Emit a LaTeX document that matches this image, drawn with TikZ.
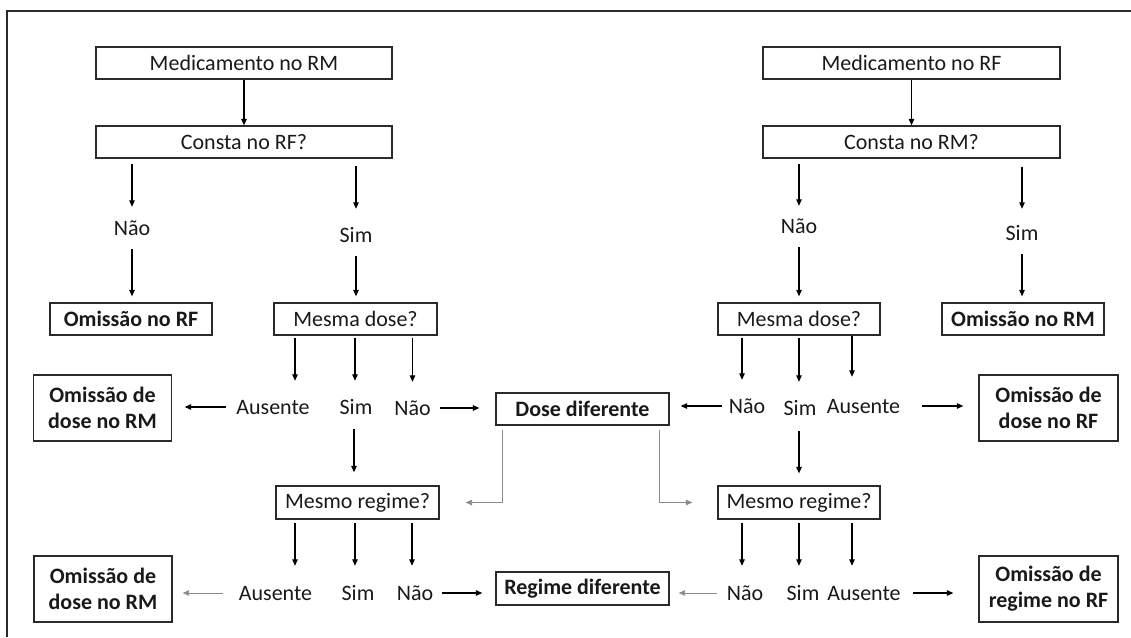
\documentclass[tikz,border=0pt]{standalone}
\usepackage{fontspec}
\setmainfont{Carlito}
\usetikzlibrary{arrows.meta}
\definecolor{boxc}{HTML}{2A2A2A}
\definecolor{grayc}{HTML}{8A8A8A}
\newcommand\myfs{\fontsize{22}{26}\selectfont}
\begin{document}
\begin{tikzpicture}[x=1pt,y=-1pt,
  box/.style={draw=boxc, line width=1.3pt, inner sep=0pt, font=\myfs, align=center, text=black!90},
  bbox/.style={box, font=\myfs\bfseries},
  lbl/.style={inner sep=0pt, font=\myfs, text height=14pt, text depth=0pt, text=black!90},
  arr/.style={draw=black, line width=1.1pt, -{Triangle[length=6.5pt,width=5.5pt]}},
  garr/.style={draw=grayc, line width=0.9pt, -{Triangle[length=6.5pt,width=5.5pt]}, color=grayc}]
\useasboundingbox (0,0) rectangle (1131,637);
% frame
\draw[boxc, line width=1.5pt] (6,11) -- (1131,11);
\draw[boxc, line width=1.5pt] (7,11) -- (7,637);

% boxes
\node[box, minimum width=296pt, minimum height=32pt] (med1) at (244,63) {Medicamento no RM};
\node[box, minimum width=296pt, minimum height=32pt] (consta1) at (244,142) {Consta no RF?};
\node[box, minimum width=297pt, minimum height=32pt] (med2) at (911.5,63) {Medicamento no RF};
\node[box, minimum width=297pt, minimum height=32pt] (consta2) at (911.5,142) {Consta no RM?};
\node[bbox, minimum width=162pt, minimum height=32pt] (omRF) at (131,319) {Omissão no RF};
\node[box, minimum width=163pt, minimum height=32pt] (dose1) at (355.5,319) {Mesma dose?};
\node[box, minimum width=162pt, minimum height=32pt] (dose2) at (799,319) {Mesma dose?};
\node[bbox, minimum width=162pt, minimum height=32pt] (omRM) at (1023,319) {Omissão no RM};
\node[bbox, minimum width=138pt, minimum height=66pt] (omdRM1) at (102.5,408) {Omissão de\\dose no RM};
\node[bbox, minimum width=173pt, minimum height=32pt] (dosedif) at (582.5,409) {Dose diferente};
\node[bbox, minimum width=139pt, minimum height=66pt] (omdRF) at (1048.5,408) {Omissão de\\dose no RF};
\node[box, minimum width=163pt, minimum height=33pt] (reg1) at (357.5,502.5) {Mesmo regime?};
\node[box, minimum width=162pt, minimum height=33pt] (reg2) at (799,502.5) {Mesmo regime?};
\node[bbox, minimum width=138pt, minimum height=66pt] (omdRM2) at (103,589) {Omissão de\\dose no RM};
\node[bbox, minimum width=173pt, minimum height=33pt] (regdif) at (582.5,588.5) {Regime diferente};
\node[bbox, minimum width=139pt, minimum height=66pt] (omrRF) at (1048.5,589) {Omissão de\\regime no RF};

% labels
\node[lbl] (n1) at (132,228) {Não};
\node[lbl] (s1) at (356,235) {Sim};
\node[lbl] (n2) at (799,226) {Não};
\node[lbl] (s2) at (1022,233) {Sim};
\node[lbl] (a1) at (273,407) {Ausente};
\node[lbl] (s3) at (356,407) {Sim};
\node[lbl] (n3) at (412.5,408) {Não};
\node[lbl] (n4) at (747,406) {Não};
\node[lbl] (s4) at (800,408) {Sim};
\node[lbl] (a2) at (863.5,406) {Ausente};
\node[lbl] (a3) at (275.5,593) {Ausente};
\node[lbl] (s5) at (358,593) {Sim};
\node[lbl] (n5) at (415,593) {Não};
\node[lbl] (n6) at (745,593) {Não};
\node[lbl] (s6) at (803,593) {Sim};
\node[lbl] (a4) at (864,593) {Ausente};

% top
\draw[arr] (med1) -- (consta1);
\draw[arr] (med2) -- (consta2);
\draw[arr, shorten <=5pt, shorten >=14pt] (consta1.south -| n1) -- (n1.north);
\draw[arr, shorten <=7pt, shorten >=19pt] (consta1.south -| s1) -- (s1.north);
\draw[arr, shorten <=14pt, shorten >=6pt] (n1.south) -- (n1.south |- omRF.north);
\draw[arr, shorten <=14pt, shorten >=6pt] (s1.south) -- (s1.south |- dose1.north);
\draw[arr, shorten <=5pt, shorten >=13pt] (consta2.south -| n2) -- (n2.north);
\draw[arr, shorten <=8pt, shorten >=17pt] (consta2.south -| s2) -- (s2.north);
\draw[arr, shorten <=14pt, shorten >=6pt] (n2.south) -- (n2.south |- dose2.north);
\draw[arr, shorten <=14pt, shorten >=6pt] (s2.south) -- (s2.south |- omRM.north);

% Mesma dose (left)
\draw[arr, shorten <=2pt, shorten >=19pt] ([xshift=22pt]dose1.south -| a1) -- ([xshift=22pt]a1.north);
\draw[arr, shorten <=2pt, shorten >=19pt] ([xshift=-1pt]dose1.south -| s3) -- ([xshift=-1pt]s3.north);
\draw[arr, shorten <=2pt, shorten >=19pt] (dose1.south -| n3) -- (n3.north);
\draw[arr, shorten <=10pt, shorten >=12.5pt] (a1.west) -- (a1.west -| omdRM1.east);
\draw[arr, shorten <=9pt, shorten >=16pt] (n3.east) -- (n3.east -| dosedif.west);
\draw[arr, shorten <=15pt, shorten >=13pt] ([xshift=-2pt]s3.south) -- ([xshift=-2pt]s3.south |- reg1.north);

% Mesma dose (right)
\draw[arr, shorten <=2pt, shorten >=19pt] ([xshift=-5pt]dose2.south -| n4) -- ([xshift=-5pt]n4.north);
\draw[arr, shorten <=2pt, shorten >=19pt] ([xshift=-1pt]dose2.south -| s4) -- ([xshift=-1pt]s4.north);
\draw[arr, shorten <=0pt, shorten >=22pt] ([xshift=-11.5pt]dose2.south -| a2) -- ([xshift=-11.5pt]a2.north);
\draw[arr, shorten <=7pt, shorten >=11pt] (n4.west) -- (n4.west -| dosedif.east);
\draw[arr, shorten <=22pt, shorten >=15pt] (a2.east) -- (a2.east -| omdRF.west);
\draw[arr, shorten <=16pt, shorten >=12pt] ([xshift=-1pt]s4.south) -- ([xshift=-1pt]s4.south |- reg2.north);

% Dose diferente -> Mesmo regime
\draw[garr, shorten <=4pt, shorten >=26pt] ([xshift=7pt]dosedif.south west) |- (reg1.east);
\draw[garr, shorten <=4pt, shorten >=25pt] ([xshift=-10pt]dosedif.south east) |- (reg2.west);

% Mesmo regime (left)
\draw[arr, shorten <=3pt, shorten >=20pt] ([xshift=19.5pt]reg1.south -| a3) -- ([xshift=19.5pt]a3.north);
\draw[arr, shorten <=3pt, shorten >=20pt] ([xshift=-3pt]reg1.south -| s5) -- ([xshift=-3pt]s5.north);
\draw[arr, shorten <=3pt, shorten >=20pt] ([xshift=-3pt]reg1.south -| n5) -- ([xshift=-3pt]n5.north);
\draw[garr, shorten <=15.5pt, shorten >=10pt] (a3.west) -- (a3.west -| omdRM2.east);
\draw[arr, shorten <=9pt, shorten >=13pt] (n5.east) -- (n5.east -| regdif.west);

% Mesmo regime (right)
\draw[arr, shorten <=3pt, shorten >=20pt] ([xshift=-3pt]reg2.south -| n6) -- ([xshift=-3pt]n6.north);
\draw[arr, shorten <=3pt, shorten >=20pt] ([xshift=-4pt]reg2.south -| s6) -- ([xshift=-4pt]s6.north);
\draw[arr, shorten <=3pt, shorten >=20pt] ([xshift=-12pt]reg2.south -| a4) -- ([xshift=-12pt]a4.north);
\draw[garr, shorten <=10pt, shorten >=9pt] (n6.west) -- (n6.west -| regdif.east);
\draw[arr, shorten <=12pt, shorten >=25pt] (a4.east) -- (a4.east -| omrRF.west);
\end{tikzpicture}
\end{document}
